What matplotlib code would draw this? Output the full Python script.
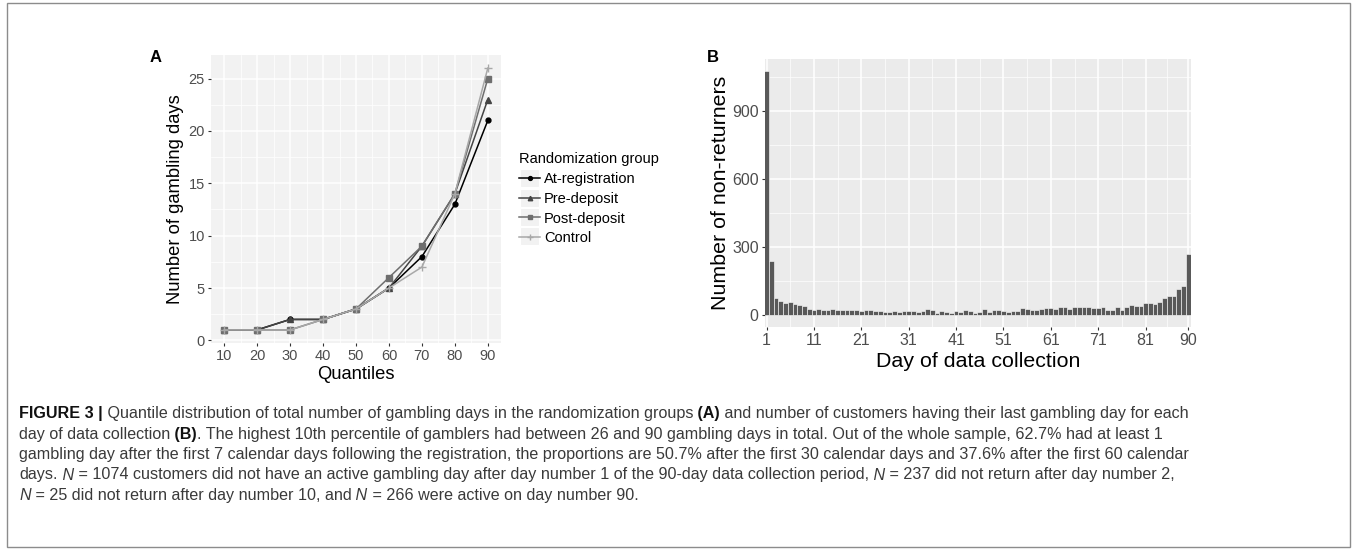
import matplotlib
matplotlib.use('Agg')
import matplotlib.pyplot as plt
from matplotlib.lines import Line2D
from matplotlib.patches import Rectangle
import numpy as np

plt.rcParams['font.family'] = ['Liberation Sans', 'DejaVu Sans']

# ---- panel A data: quantiles of gambling days per group
quantiles = [10, 20, 30, 40, 50, 60, 70, 80, 90]
at_registration = [1, 1, 2, 2, 3, 5, 8, 13, 21]
pre_deposit = [1, 1, 2, 2, 3, 5, 9, 14, 23]
post_deposit = [1, 1, 1, 2, 3, 6, 9, 14, 25]
control = [1, 1, 1, 2, 3, 5, 7, 14, 26]
group_names = ['At-registration', 'Pre-deposit', 'Post-deposit', 'Control']

# ---- panel B data: non-returners per day of data collection
days = list(range(1, 91))
non_returners = [
    1074, 237, 76, 62, 50, 56, 47, 45, 38, 25,
    20, 26, 20, 21, 25, 22, 20, 21, 23, 21,
    18, 23, 22, 17, 15, 11, 14, 15, 13, 17,
    18, 16, 12, 15, 25, 22, 10, 18, 13, 10,
    16, 14, 22, 15, 10, 14, 24, 12, 20, 22,
    17, 14, 15, 19, 31, 27, 21, 22, 27, 31,
    28, 26, 34, 34, 27, 36, 33, 33, 34, 28,
    30, 33, 21, 22, 33, 22, 34, 44, 40, 41,
    53, 50, 49, 57, 76, 81, 84, 115, 128, 266,
]
day_ticks = [1, 11, 21, 31, 41, 51, 61, 71, 81, 90]

caption_lines = [
    [('FIGURE 3 |', 'bold', 'normal'),
     (' Quantile distribution of total number of gambling days in the randomization groups', 'normal', 'normal'),
     (' (A)', 'bold', 'normal'),
     (' and number of customers having their last gambling day for each', 'normal', 'normal')],
    [('day of data collection', 'normal', 'normal'),
     (' (B)', 'bold', 'normal'),
     ('. The highest 10th percentile of gamblers had between 26 and 90 gambling days in total. '
      'Out of the whole sample, 62.7% had at least 1', 'normal', 'normal')],
    [('gambling day after the first 7 calendar days following the registration, the proportions are '
      '50.7% after the first 30 calendar days and 37.6% after the first 60 calendar', 'normal', 'normal')],
    [('days.', 'normal', 'normal'), (' N', 'normal', 'italic'),
     (' = 1074 customers did not have an active gambling day after day number 1 of the 90-day data '
      'collection period,', 'normal', 'normal'),
     (' N', 'normal', 'italic'),
     (' = 237 did not return after day number 2,', 'normal', 'normal')],
    [('N', 'normal', 'italic'), (' = 25 did not return after day number 10, and', 'normal', 'normal'),
     (' N', 'normal', 'italic'), (' = 266 were active on day number 90.', 'normal', 'normal')],
]

W, H = 1357, 550
fig = plt.figure(figsize=(W / 100, H / 100), dpi=100)


def px_rect(l, t, r, b):
    return [l / W, 1 - b / H, (r - l) / W, (b - t) / H]


def gg_style(ax, face):
    ax.set_facecolor(face)
    for s in ax.spines.values():
        s.set_visible(False)
    ax.grid(which='major', color='white', lw=1.1)
    ax.grid(which='minor', color='white', lw=0.5)
    ax.set_axisbelow(True)
    ax.tick_params(which='major', length=2.5, width=0.8, color='#333333', labelcolor='#4d4d4d', pad=2)
    ax.tick_params(which='minor', length=0)


# ---- panel A
axA = fig.add_axes(px_rect(211, 55, 501, 343))
gg_style(axA, '#f2f2f2')
colors = ['#000000', '#444444', '#6e6e6e', '#a8a8a8']
markers = ['o', '^', 's', '+']
sizes = [3.5, 4, 4, 6]
for vals, c, m, ms, name in zip([at_registration, pre_deposit, post_deposit, control],
                                 colors, markers, sizes, group_names):
    axA.plot(quantiles, vals, color=c, marker=m, ms=ms, lw=1.1, mew=1, label=name)
axA.set_xlim(6, 94)
axA.set_ylim(-0.25, 27.25)
axA.set_xticks(quantiles)
axA.set_xticks([15, 25, 35, 45, 55, 65, 75, 85], minor=True)
axA.set_yticks([0, 5, 10, 15, 20, 25])
axA.set_yticks([2.5, 7.5, 12.5, 17.5, 22.5], minor=True)
axA.tick_params(labelsize=10.5)
axA.set_xlabel('Quantiles', fontsize=13.2, labelpad=2)
axA.set_ylabel('Number of gambling days', fontsize=13.2, labelpad=3)

# legend keys sit on small light-grey squares, as in ggplot
key_tops = [169, 188.5, 208, 227.5]
for yt in key_tops:
    fig.add_artist(Rectangle((520 / W, 1 - (yt + 18) / H), 19 / W, 18 / H, transform=fig.transFigure,
                             facecolor='#f2f2f2', edgecolor='white', lw=0.8, zorder=0))
handles = [Line2D([], [], color=c, marker=m, ms=ms * 0.8, lw=1.1) for c, m, ms in zip(colors, markers, sizes)]
leg = axA.legend(handles, group_names, title='Randomization group', loc='upper left',
                 bbox_to_anchor=(519 / W, 1 - 152 / H), bbox_transform=fig.transFigure,
                 frameon=False, fontsize=10.5, title_fontsize=10.5, handlelength=1.45,
                 handletextpad=0.25, labelspacing=0.4, borderpad=0, borderaxespad=0,
                 alignment='left')

# ---- panel B
axB = fig.add_axes(px_rect(765, 59, 1191, 327))
gg_style(axB, '#ebebeb')
axB.bar(days, non_returners, width=1, color='#595959', edgecolor='white', linewidth=0.4)
axB.set_xlim(0.68, 90.57)
axB.set_ylim(-53.7, 1127.7)
axB.set_xticks(day_ticks)
axB.set_xticks([(a + b) / 2 for a, b in zip(day_ticks[:-1], day_ticks[1:])], minor=True)
axB.set_yticks([0, 300, 600, 900])
axB.set_yticks([150, 450, 750, 1050], minor=True)
axB.tick_params(labelsize=11.5)
axB.set_xlabel('Day of data collection', fontsize=15.4, labelpad=3)
axB.set_ylabel('Number of non-returners', fontsize=15.4, labelpad=1.5)

fig.text(150 / W, 1 - 58 / H, 'A', fontsize=12, fontweight='bold', va='center')
fig.text(707 / W, 1 - 58 / H, 'B', fontsize=12, fontweight='bold', va='center')

# ---- frame around the whole figure
fig.add_artist(Rectangle((7 / W, 3 / H), (1350 - 7) / W, (547 - 3) / H, transform=fig.transFigure,
                         fill=False, edgecolor='#8c8c8c', lw=1))

# ---- caption, drawn piece by piece
cap_font = ['Liberation Sans Narrow', 'Liberation Sans']
renderer = fig.canvas.get_renderer()


def draw_line(parts, x0, y0, size, draw=True):
    x = x0
    made = []
    for txt, weight, style in parts:
        col = '#111111' if weight == 'bold' else '#3a3a3a'
        t = fig.text(x / W, 1 - y0 / H, txt, fontsize=size, fontweight=weight, fontstyle=style,
                     color=col, family=cap_font, va='baseline', ha='left')
        x += t.get_window_extent(renderer).width
        made.append(t)
    if not draw:
        for t in made:
            t.remove()
    return x - x0


w0 = draw_line(caption_lines[0], 19, 418, 12, draw=False)
cap_size = 12 * (1187 - 19) / w0
baselines = [418, 438.5, 459, 479.5, 500]
for parts, yb in zip(caption_lines, baselines):
    draw_line(parts, 19, yb, cap_size)

fig.savefig('out.png', dpi=100)
